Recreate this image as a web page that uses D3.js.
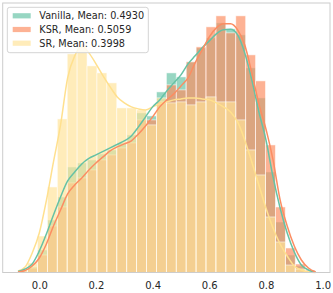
<!DOCTYPE html>
<html>
<head>
<meta charset="utf-8">
<script src="https://cdn.jsdelivr.net/npm/d3@7"></script>
<style>
  body { margin: 0; background: #fff; }
  svg { display: block; font-family: "DejaVu Sans", sans-serif; }
</style>
</head>
<body>
<div class="chart"></div>
<script>
// histogram bins (common to all series)
const binStart = -0.0765, binWidth = 0.035;

const seriesNames = ["Vanilla", "KSR", "SR"];
const seriesMeans = ["0.4930", "0.5059", "0.3998"];

// bar counts per bin
const vanillaCounts = [1.5, 5.5, 22.5, 52.5, 75.5, 105.5, 109.5, 112.5, 118.5, 122.5,
  129.5, 137.5, 159.5, 156.5, 180.5, 199.5, 195.5, 210.5, 224.5, 234.5,
  249.5, 243.5, 237.5, 204.5, 174.5, 100.5, 50.5, 17.5, 6.5, 1.5];
const ksrCounts = [1, 4.5, 17.5, 46.5, 65.5, 89.5, 94.5, 102.5, 112.5, 117.5,
  124.5, 129.5, 152.5, 152.5, 170.5, 187.5, 182.5, 210.5, 225.5, 245.5,
  256.5, 239.5, 256.5, 217.5, 191.5, 127.5, 65.5, 24.5, 8.5, 2.5];
const srCounts = [2.5, 9.5, 36.5, 85.5, 153.5, 218.5, 228.5, 206.5, 199.5, 189.5,
  164.5, 164.5, 162.5, 147.5, 174.5, 169.5, 170.5, 167.5, 170.5, 175.5,
  170.5, 170.5, 152.5, 122.5, 97.5, 55.5, 30.5, 7.5, 3.5, 1.5];

// kde curves
const kdeX = d3.range(43).map(i => -0.075 + i * 0.025);
const vanillaKde = [1, 3.5, 8.5, 21.5, 38.5, 57.5, 75.5, 91.5, 100.5, 108.5,
  114, 117.5, 121, 124.5, 128, 131.5, 136.5, 145.5, 155.5, 165.5,
  172.5, 181.5, 189.5, 197.5, 208.5, 216.5, 224.5, 231.5, 238.5, 242.5,
  243, 237.5, 219.5, 192.5, 160.5, 132.5, 95.5, 64.5, 39.5, 20.5,
  7.5, 2.5, 0.5];
const ksrKde = [0.5, 2, 6.5, 14.5, 28.5, 46.5, 62.5, 78.5, 87.5, 94.5,
  102.5, 109.5, 115.5, 121.5, 125.5, 128.5, 131.5, 138.5, 146.5, 155.5,
  165.5, 172.5, 178.5, 186.5, 194.5, 209.5, 222.5, 235.5, 244.5, 248.5,
  248.5, 242.5, 227.5, 199.5, 168.5, 143.5, 112.5, 72.5, 46.5, 26.5,
  12.5, 4.5, 0.5];
const srKde = [1.5, 5.5, 19.5, 39.5, 72, 110.5, 147.5, 194.5, 216.5, 225.5,
  219.5, 208.5, 196.5, 185.5, 175.5, 169.5, 165.5, 163.5, 162.5, 165.5,
  168.5, 170.5, 172.5, 173.5, 174.5, 174.5, 173.5, 172.5, 169.5, 165.5,
  160.5, 150.5, 132.5, 110.5, 87.5, 64.5, 44.5, 28.5, 16.5, 6.5,
  2.5, 0.5, 0];

const xTicks = [0.0, 0.2, 0.4, 0.6, 0.8, 1.0];

const barColors = ["#66c2a5", "#fc8d62", "#ffe39a"];
const lineColors = ["#66c2a5", "#fc8d62", "#ffe08e"];
const barAlpha = 0.68;

const counts = [vanillaCounts, ksrCounts, srCounts];
const kdes = [vanillaKde, ksrKde, srKde];

const width = 333, height = 293;
const margin = {top: 3, right: 3, bottom: 20.5, left: 2.7};

const svg = d3.select(".chart").append("svg")
  .attr("width", width)
  .attr("height", height);

const xScale = d3.scaleLinear()
  .domain([-0.1292, 1.0261])
  .range([margin.left, width - margin.right]);

const yMax = d3.max(counts.flat()) * 1.05;
const yScale = d3.scaleLinear()
  .domain([0, yMax])
  .range([height - margin.bottom, margin.top]);

// bars: Vanilla first, SR on top
counts.forEach((c, s) => {
  svg.append("g")
    .selectAll("rect")
    .data(c)
    .enter()
    .append("rect")
    .attr("x", (d, i) => xScale(binStart + i * binWidth))
    .attr("width", (d, i) => xScale(binStart + (i + 1) * binWidth) - xScale(binStart + i * binWidth))
    .attr("y", d => yScale(d))
    .attr("height", d => yScale(0) - yScale(d))
    .attr("fill", barColors[s])
    .attr("fill-opacity", barAlpha)
    .attr("stroke", "#fff")
    .attr("stroke-opacity", barAlpha)
    .attr("stroke-width", 0.8);
});

// kde lines
const line = d3.line()
  .x((d, i) => xScale(kdeX[i]))
  .y(d => yScale(d))
  .curve(d3.curveMonotoneX);

[2, 0, 1].forEach(s => {
  svg.append("path")
    .attr("d", line(kdes[s]))
    .attr("fill", "none")
    .attr("stroke", lineColors[s])
    .attr("stroke-width", 1.5);
});

// frame
svg.append("rect")
  .attr("x", margin.left)
  .attr("y", margin.top)
  .attr("width", width - margin.right - margin.left)
  .attr("height", height - margin.bottom - margin.top)
  .attr("fill", "none")
  .attr("stroke", "#cccccc")
  .attr("stroke-width", 1);

// x tick labels (no tick marks)
const xAxis = d3.axisBottom(xScale)
  .tickValues(xTicks)
  .tickFormat(d3.format(".1f"))
  .tickSize(0)
  .tickPadding(9);
const gx = svg.append("g")
  .attr("transform", `translate(0, ${height - margin.bottom})`)
  .call(xAxis);
gx.select(".domain").remove();
gx.selectAll("text")
  .attr("font-family", "DejaVu Sans")
  .attr("font-size", 10)
  .attr("fill", "#262626");

// legend
const legend = svg.append("g");
legend.append("rect")
  .attr("x", 7.3).attr("y", 7.3)
  .attr("width", 141).attr("height", 45.4)
  .attr("rx", 2.5)
  .attr("fill", "#fff").attr("fill-opacity", 0.8)
  .attr("stroke", "#d4d4d4").attr("stroke-width", 1);

const items = legend.selectAll(".item")
  .data(seriesNames)
  .enter()
  .append("g")
  .attr("transform", (d, i) => `translate(0, ${15.8 + i * 13.7})`);

items.append("rect")
  .attr("x", 12.7).attr("y", -2.6)
  .attr("width", 18).attr("height", 5.2)
  .attr("fill", (d, i) => barColors[i])
  .attr("fill-opacity", barAlpha);

items.append("text")
  .attr("x", 39.3)
  .attr("y", 3.5)
  .attr("font-size", 9.7)
  .attr("fill", "#262626")
  .text((d, i) => d + ", Mean: " + seriesMeans[i]);
</script>
</body>
</html>
